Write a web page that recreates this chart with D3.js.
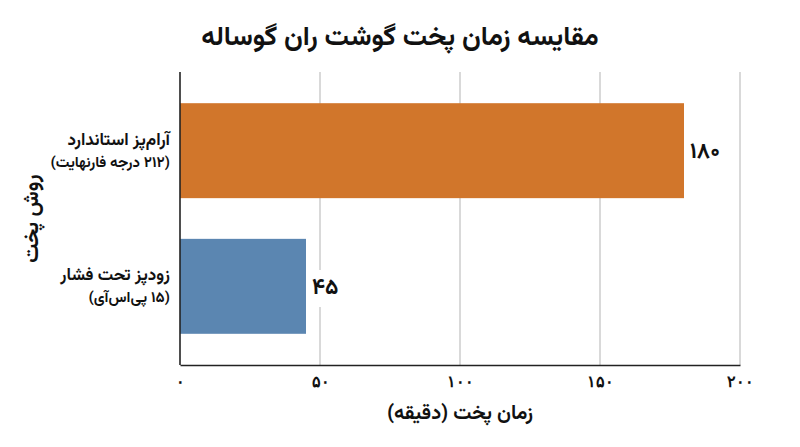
<!DOCTYPE html>
<html>
<head>
<meta charset="utf-8">
<script src="https://cdn.jsdelivr.net/npm/d3@7"></script>
<style>
  html, body { margin: 0; padding: 0; background: #fff; }
  svg { display: block; font-family: Vazirmatn, "DejaVu Sans", sans-serif; }
</style>
</head>
<body>
<div id="chart"></div>
<script>
(() => {
  // ------- data -------
  const chartTitle = "مقایسه زمان پخت گوشت ران گوساله";
  const xTitle = "زمان پخت (دقیقه)";
  const yTitle = "روش پخت";
  const methods = ["آرام‌پز استاندارد", "زودپز تحت فشار"];
  const methodNotes = ["(۲۱۲ درجه فارنهایت)", "(۱۵ پی‌اس‌آی)"];
  const minutes = [180, 45];
  const barColors = ["#d1762b", "#5b86b1"];
  const xTicks = [0, 50, 100, 150, 200];

  // ------- helpers -------
  const FA = "۰۱۲۳۴۵۶۷۸۹";
  const toFa = (v) => String(v).replace(/\d/g, d => FA[d]);

  const width = 800, height = 447;
  const margin = { top: 72, right: 60, bottom: 82, left: 180 };
  const w = width - margin.left - margin.right;
  const h = height - margin.top - margin.bottom;

  const svg = d3.select("#chart").append("svg")
    .attr("width", width).attr("height", height)
    .attr("viewBox", `0 0 ${width} ${height}`);

  svg.append("text")
    .attr("x", width / 2).attr("y", 45)
    .attr("text-anchor", "middle")
    .attr("direction", "rtl")
    .attr("fill", "#111")
    .style("font-size", "27px").style("font-weight", "bold")
    .text(chartTitle);

  const g = svg.append("g").attr("transform", `translate(${margin.left},${margin.top})`);

  const x = d3.scaleLinear().domain([0, 200]).range([0, w]);
  const y = d3.scaleBand().domain(methods).range([0, h])
    .paddingInner(0.3).paddingOuter(0.23);

  // grid
  g.append("g")
    .selectAll("line")
    .data(xTicks.filter(t => t > 0))
    .join("line")
    .attr("x1", d => x(d)).attr("x2", d => x(d))
    .attr("y1", 0).attr("y2", h)
    .attr("stroke", "#b3b3b3").attr("stroke-width", 1);

  // bars
  const rows = methods.map((m, i) => ({ m, note: methodNotes[i], v: minutes[i], c: barColors[i] }));

  g.append("g")
    .selectAll("rect")
    .data(rows)
    .join("rect")
    .attr("x", x(0))
    .attr("y", d => y(d.m))
    .attr("width", d => x(d.v) - x(0))
    .attr("height", y.bandwidth())
    .attr("fill", d => d.c);

  // value labels with white backing
  const vl = g.append("g").selectAll("g").data(rows).join("g");
  const vt = vl.append("text")
    .attr("x", d => x(d.v) + 6)
    .attr("y", d => y(d.m) + y.bandwidth() / 2)
    .attr("dy", "0.35em")
    .attr("fill", "#111")
    .style("font-size", "22px").style("font-weight", "bold")
    .text(d => toFa(d.v));
  vt.each(function() {
    const b = this.getBBox();
    d3.select(this.parentNode).insert("rect", "text")
      .attr("x", b.x - 2).attr("y", b.y - 1)
      .attr("width", b.width + 4).attr("height", b.height + 2)
      .attr("fill", "#fff");
  });

  // axes
  const xAxis = d3.axisBottom(x).tickValues(xTicks).tickSize(0).tickPadding(11).tickFormat(toFa);
  g.append("g")
    .attr("transform", `translate(0,${h})`)
    .call(xAxis)
    .call(s => s.select(".domain").attr("stroke", "#222").attr("stroke-width", 1.6))
    .call(s => s.selectAll("text")
      .attr("fill", "#111")
      .style("font-size", "16px").style("font-weight", "bold")
      .style("font-family", "inherit"));

  g.append("line")
    .attr("x1", 0).attr("x2", 0).attr("y1", 0).attr("y2", h)
    .attr("stroke", "#222").attr("stroke-width", 1.6);

  // category labels
  const cl = g.append("g").selectAll("g").data(rows).join("g")
    .attr("transform", d => `translate(-10,${y(d.m) + y.bandwidth() / 2})`);
  cl.append("text")
    .attr("y", -6)
    .attr("text-anchor", "start")
    .attr("direction", "rtl")
    .attr("fill", "#111")
    .style("font-size", "17px").style("font-weight", "bold")
    .text(d => d.m);
  cl.append("text")
    .attr("y", 16)
    .attr("text-anchor", "start")
    .attr("direction", "rtl")
    .attr("fill", "#111")
    .style("font-size", "15px").style("font-weight", "bold")
    .text(d => d.note);

  // axis titles
  g.append("text")
    .attr("x", w / 2).attr("y", h + 54)
    .attr("text-anchor", "middle")
    .attr("direction", "rtl")
    .attr("fill", "#111")
    .style("font-size", "20px").style("font-weight", "bold")
    .text(xTitle);

  g.append("text")
    .attr("transform", `translate(${-142},${h / 2}) rotate(-90)`)
    .attr("text-anchor", "middle")
    .attr("direction", "rtl")
    .attr("fill", "#111")
    .style("font-size", "21px").style("font-weight", "bold")
    .text(yTitle);
})();
</script>
</body>
</html>
